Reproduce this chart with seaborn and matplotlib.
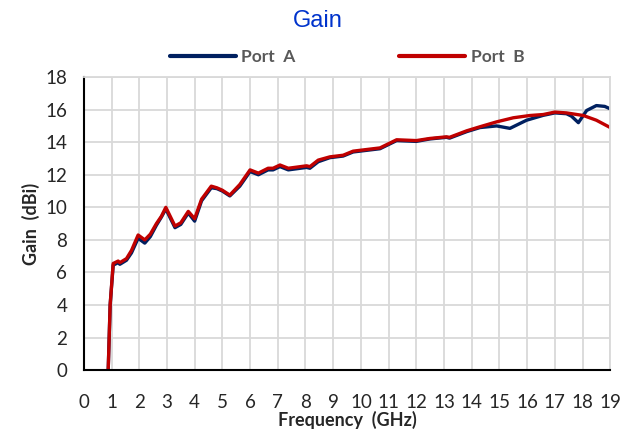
import matplotlib
matplotlib.use("Agg")
import matplotlib.pyplot as plt
import seaborn as sns
import pandas as pd

freq_a = [0.88, 0.95, 1.06, 1.24, 1.3, 1.54, 1.72, 1.96, 2.2, 2.4, 2.62, 2.8, 2.96, 3.29, 3.5, 3.77, 4.0, 4.25,
          4.6, 4.8, 5.0, 5.27, 5.63, 6.0, 6.3, 6.65, 6.83, 7.08, 7.38, 8.04, 8.16, 8.46, 8.88, 9.36, 9.72, 9.96,
          10.69, 11.29, 12.0, 12.49, 13.09, 13.2, 13.82, 14.3, 14.9, 15.38, 15.98, 16.58, 17.0, 17.42, 17.6,
          17.85, 18.15, 18.5, 18.8, 19.0]
gain_a = [0.0, 4.0, 6.45, 6.6, 6.5, 6.75, 7.2, 8.1, 7.8, 8.2, 8.9, 9.4, 9.9, 8.75, 8.95, 9.65, 9.15, 10.4,
          11.2, 11.15, 11.0, 10.7, 11.3, 12.2, 12.0, 12.3, 12.3, 12.5, 12.3, 12.45, 12.4, 12.8, 13.05, 13.15, 13.4, 13.45,
          13.6, 14.1, 14.05, 14.2, 14.3, 14.25, 14.65, 14.9, 15.0, 14.85, 15.35, 15.65, 15.8, 15.75, 15.6,
          15.2, 15.95, 16.25, 16.2, 16.05]

freq_b = [0.88, 0.95, 1.06, 1.24, 1.3, 1.54, 1.72, 1.96, 2.2, 2.4, 2.62, 2.8, 2.96, 3.29, 3.5, 3.77, 4.0, 4.25,
          4.6, 4.8, 5.0, 5.27, 5.63, 6.0, 6.3, 6.65, 6.83, 7.08, 7.38, 8.04, 8.16, 8.46, 8.88, 9.36, 9.72, 9.96,
          10.69, 11.29, 12.0, 12.49, 13.09, 13.2, 13.82, 14.3, 14.9, 15.5, 16.1, 16.58, 17.0, 17.42, 18.03,
          18.5, 19.0]
gain_b = [0.0, 4.0, 6.55, 6.7, 6.6, 6.85, 7.35, 8.3, 8.0, 8.35, 9.0, 9.45, 10.0, 8.85, 9.05, 9.75, 9.3, 10.5,
          11.3, 11.2, 11.05, 10.75, 11.4, 12.3, 12.1, 12.4, 12.4, 12.6, 12.4, 12.55, 12.5, 12.9, 13.1, 13.2, 13.45, 13.5,
          13.65, 14.15, 14.1, 14.23, 14.33, 14.3, 14.7, 14.95, 15.25, 15.5, 15.64, 15.7, 15.85, 15.8, 15.64,
          15.35, 14.9]

series = ["Port  A"] * len(freq_a) + ["Port  B"] * len(freq_b)
df = pd.DataFrame({"freq": freq_a + freq_b, "gain": gain_a + gain_b, "series": series})

sns.set_style("white")
plt.rcParams["font.family"] = ["Lato", "DejaVu Sans"]

fig = plt.figure(figsize=(6.35, 4.38), dpi=100)
ax = fig.add_axes([0.132, 0.155, 0.829, 0.669])

sns.lineplot(data=df, x="freq", y="gain", hue="series", palette={"Port  A": "#002060", "Port  B": "#C00000"},
             linewidth=2.4, ax=ax, sort=False, estimator=None)

ax.set_xlim(0, 19)
ax.set_ylim(0, 18)
ax.set_xticks(range(0, 20))
ax.set_yticks(range(0, 19, 2))
ax.grid(True, color="#d9d9d9", linewidth=1.3)
ax.set_axisbelow(True)
for s in ["top", "right"]:
    ax.spines[s].set_color("#d9d9d9")
    ax.spines[s].set_linewidth(1.3)
for s in ["left", "bottom"]:
    ax.spines[s].set_color("black")
    ax.spines[s].set_linewidth(1.5)
ax.tick_params(axis="x", length=0, pad=17, labelsize=13.5, labelcolor="#262626")
ax.tick_params(axis="y", length=0, pad=12, labelsize=13.5, labelcolor="#262626")

ax.set_xlabel("Frequency  (GHz)", fontsize=13, fontweight="bold", labelpad=0)
ax.set_ylabel("Gain  (dBi)", fontsize=13, fontweight="bold", labelpad=4)

fig.text(0.5, 0.952, "Gain", ha="center", va="center", color="#0033cc", fontsize=17,
         family=["Liberation Sans", "DejaVu Sans"])

handles, labels = ax.get_legend_handles_labels()
leg = ax.legend(handles, labels, loc="center", bbox_to_anchor=(0.5, 1.07), ncol=2, frameon=False,
                handlelength=3.8, columnspacing=6.0, handletextpad=0.3,
                prop={"weight": "bold", "size": 12.5})
for t in leg.get_texts():
    t.set_color("#595959")
for h in leg.get_lines():
    h.set_linewidth(3)

fig.savefig("out.png", dpi=100)
